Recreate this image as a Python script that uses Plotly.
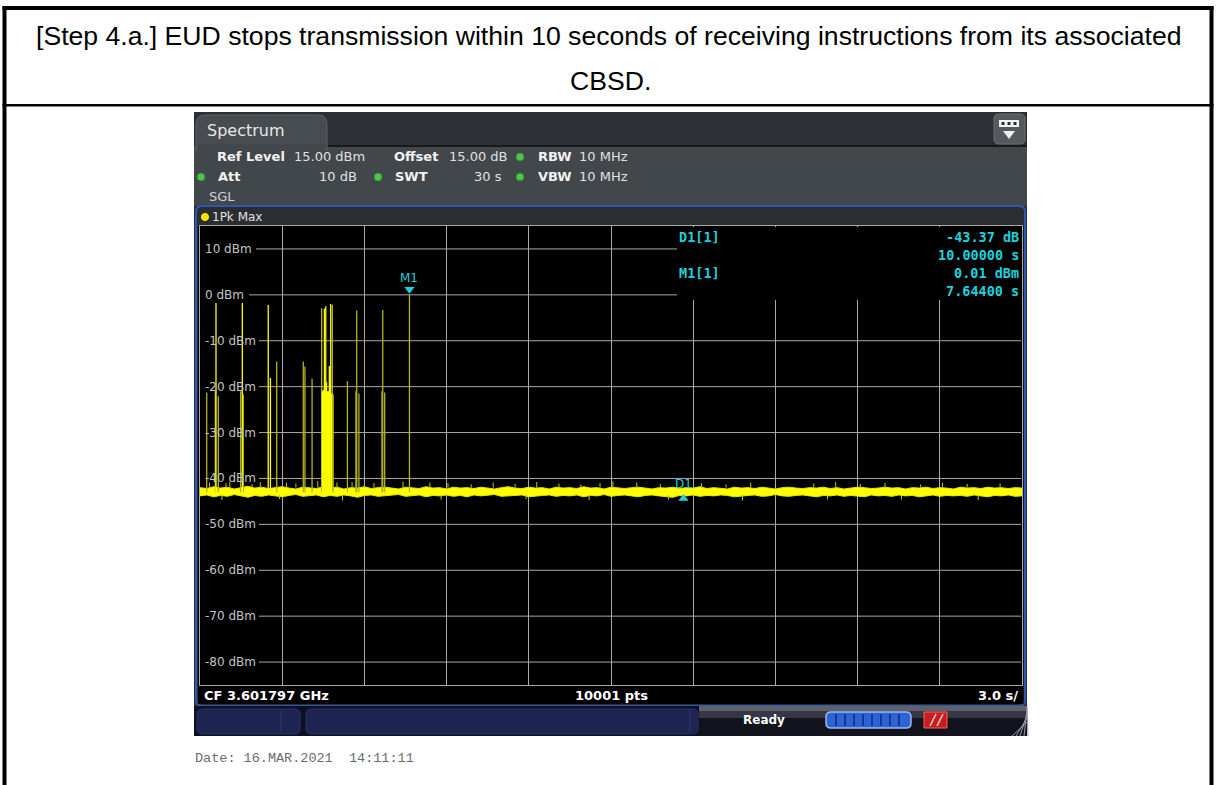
import plotly.graph_objects as go

W, H = 1216, 785

# ---------------- data ----------------
sweep_s = 30.0
ref_top, ref_bottom = 15, -85
y_ticks = [10, 0, -10, -20, -30, -40, -50, -60, -70, -80]
y_tick_labels = ["10 dBm", "0 dBm", "-10 dBm", "-20 dBm", "-30 dBm",
                 "-40 dBm", "-50 dBm", "-60 dBm", "-70 dBm", "-80 dBm"]

noise_t = [i * 0.25 for i in range(121)]
noise_upper = [
    -42.0, -42.2, -41.8, -42.1, -41.9, -42.3, -42.0, -41.7, -42.1, -41.9,
    -42.2, -42.0, -41.8, -42.1, -42.3, -41.9, -42.0, -42.2, -41.8, -42.1,
    -41.9, -42.3, -42.0, -42.1, -41.8, -42.2, -42.0, -41.9, -42.1, -42.3,
    -41.9, -42.0, -42.2, -41.8, -42.1, -42.0, -42.3, -41.9, -42.1, -42.0,
    -42.2, -41.9, -42.1, -42.3, -42.0, -41.8, -42.1, -42.2, -41.9, -42.1,
    -42.0, -42.3, -41.9, -42.1, -42.0, -42.2, -41.8, -42.1, -42.0, -42.3,
    -41.9, -42.1, -42.2, -42.0, -41.9, -42.1, -42.3, -42.0, -42.1, -41.9,
    -42.2, -42.0, -42.1, -41.8, -42.2, -42.0, -42.1, -42.3, -41.9, -42.1,
    -42.0, -42.2, -41.9, -42.1, -42.3, -42.0, -41.9, -42.1, -42.2, -42.0,
    -42.1, -41.9, -42.2, -42.0, -42.3, -42.1, -41.9, -42.0, -42.2, -42.1,
    -41.9, -42.1, -42.0, -42.3, -42.0, -42.1, -41.9, -42.2, -42.0, -42.1,
    -42.3, -41.9, -42.1, -42.0, -42.2, -41.9, -42.1, -42.0, -42.2, -42.0,
    -42.1]
noise_lower = [
    -43.8, -43.6, -44.0, -43.7, -43.9, -43.5, -43.8, -44.1, -43.7, -43.9,
    -43.6, -43.8, -44.0, -43.7, -43.5, -43.9, -43.8, -43.6, -44.0, -43.7,
    -43.9, -43.6, -43.8, -44.1, -43.7, -43.6, -43.9, -43.8, -43.7, -43.5,
    -43.9, -43.8, -43.6, -44.0, -43.7, -43.8, -43.6, -43.9, -43.7, -44.0,
    -43.6, -43.8, -43.7, -43.5, -43.9, -43.8, -43.7, -43.6, -44.0, -43.8,
    -43.7, -43.6, -43.9, -43.7, -43.8, -43.6, -44.0, -43.7, -43.8, -43.5,
    -43.9, -43.7, -43.6, -43.8, -44.0, -43.7, -43.6, -43.8, -43.9, -44.1,
    -43.7, -43.8, -43.6, -43.9, -43.7, -43.8, -43.6, -43.7, -44.0, -43.8,
    -43.7, -43.6, -43.9, -43.8, -43.5, -43.8, -43.9, -43.7, -43.6, -43.8,
    -44.0, -43.7, -43.8, -43.6, -43.9, -43.7, -43.8, -44.0, -43.6, -43.8,
    -43.7, -43.9, -43.6, -43.8, -43.7, -44.0, -43.8, -43.6, -43.9, -43.7,
    -43.8, -43.7, -43.9, -43.6, -43.8, -44.0, -43.7, -43.8, -43.6, -43.9,
    -43.8]

floor_peak_t = [0.35, 0.95, 1.09, 1.9, 2.2, 3.16, 3.5, 4.3, 5.0, 5.55, 6.0, 6.35,
                7.41, 8.39, 9.05, 9.9, 10.7, 11.5, 12.29, 13.1, 13.9, 14.6, 15.07,
                15.94, 16.8, 18.3, 19.2, 20.1, 21.0, 22.4, 23.2, 24.1, 25.0, 26.3,
                27.1, 28.0, 29.2]
floor_peak_dbm = [-40.9, -41.0, -40.7, -41.2, -40.8, -40.9, -41.1, -40.6, -40.9, -40.8,
                  -41.2, -41.0, -40.7, -40.9, -41.0, -41.3, -40.9, -41.2, -40.8, -41.1,
                  -41.3, -41.0, -40.6, -40.9, -41.2, -41.0, -41.3, -40.9, -41.2, -41.1,
                  -40.8, -41.2, -41.0, -41.3, -40.9, -41.2, -41.1]
floor_dip_t = [0.8, 2.9, 5.2, 8.8, 11.9, 14.2, 17.1, 19.8, 22.9, 25.6, 28.4]
floor_dip_dbm = [-44.7, -44.5, -44.8, -44.6, -44.5, -44.7, -44.6, -44.8, -44.5, -44.6, -44.7]

burst_t = [0.245, 0.560, 0.584, 0.668, 1.485, 1.545, 1.58, 2.49, 2.57, 2.80,
           3.77, 3.83, 4.09, 4.44, 4.47, 4.50, 4.54, 4.56, 4.59, 4.62, 4.66,
           4.69, 4.72, 4.77, 4.80, 4.83, 4.86, 5.38, 5.69, 5.72, 5.80, 6.64,
           6.67, 6.74, 7.644]
burst_dbm = [-21.3, -21.0, -1.8, -22.1, -21.0, -1.8, -21.7, -2.2, -18.1, -14.5,
             -14.5, -15.6, -18.3, -2.9, -21.0, -20.7, -3.0, -21.0, -2.5, -19.0, -21.0,
             -21.0, -15.5, -2.0, -21.5, -2.2, -21.7, -18.8, -21.0, -3.4, -21.5, -21.0,
             -3.3, -21.3, 0.01]
burst_bright = [False, False, True, False, False, True, False, True, True, False,
                False, False, False, False, True, True, True, True, True, True, True,
                True, True, True, True, False, False, False, False, False, False, False,
                False, False, False]
floor_level = -43.0

m1_t, m1_dbm = 7.644, 0.01
d1_dt, d1_db = 10.0, -43.37

# ---------------- helpers (layout only) ----------------
shapes, annos = [], []
X = lambda x: x / W
Y = lambda y: 1 - y / H


def rect(x0, y0, x1, y1, fill, lc=None, lw=0, layer="below"):
    shapes.append(dict(type="rect", xref="paper", yref="paper", x0=X(x0), x1=X(x1),
                       y0=Y(y1), y1=Y(y0), fillcolor=fill,
                       line=dict(color=lc or fill, width=lw), layer=layer))


def rrect(x0, y0, x1, y1, r, fill, lc=None, lw=0, bottom_round=True, layer="below"):
    rb = r if bottom_round else 0
    p = (f"M {X(x0 + r)},{Y(y0)} L {X(x1 - r)},{Y(y0)} Q {X(x1)},{Y(y0)} {X(x1)},{Y(y0 + r)} "
         f"L {X(x1)},{Y(y1 - rb)} Q {X(x1)},{Y(y1)} {X(x1 - rb)},{Y(y1)} "
         f"L {X(x0 + rb)},{Y(y1)} Q {X(x0)},{Y(y1)} {X(x0)},{Y(y1 - rb)} "
         f"L {X(x0)},{Y(y0 + r)} Q {X(x0)},{Y(y0)} {X(x0 + r)},{Y(y0)} Z")
    shapes.append(dict(type="path", xref="paper", yref="paper", path=p,
                       fillcolor=fill, line=dict(color=lc or fill, width=lw), layer=layer))


def line(x0, y0, x1, y1, color, w=1, layer="below"):
    shapes.append(dict(type="line", xref="paper", yref="paper", x0=X(x0), x1=X(x1),
                       y0=Y(y0), y1=Y(y1), line=dict(color=color, width=w), layer=layer))


def dot(cx, cy, r, fill, lc=None):
    shapes.append(dict(type="circle", xref="paper", yref="paper", x0=X(cx - r), x1=X(cx + r),
                       y0=Y(cy + r), y1=Y(cy - r), fillcolor=fill,
                       line=dict(color=lc or fill, width=1), layer="below"))


def text(x, y, s, size=13, color="#e0e0e0", family="DejaVu Sans", anchor="left", bold=False):
    annos.append(dict(xref="paper", yref="paper", x=X(x), y=Y(y),
                      text=f"<b>{s}</b>" if bold else s, showarrow=False,
                      xanchor=anchor, yanchor="middle", borderpad=0,
                      font=dict(size=size, color=color, family=family)))


# ---------------- outer table ----------------
rect(2.5, 6, 1213.5, 10, "black")
rect(2.5, 6, 6.5, 785, "black")
rect(1209.5, 6, 1213.5, 785, "black")
rect(2.5, 104, 1213.5, 106.5, "black")
hdr_font = "Liberation Sans, Arial"
text(609, 36, "[Step 4.a.] EUD stops transmission within 10 seconds of receiving instructions from its associated",
     size=26.6, color="black", family=hdr_font, anchor="center")
text(610, 81, "CBSD.", size=26.6, color="black", family=hdr_font, anchor="center")

# ---------------- instrument screenshot chrome ----------------
rect(194, 112, 1027, 736, "#2c3034")            # whole screenshot
rect(194, 146, 1027, 206, "#42474b")            # info area
line(327, 146, 1027, 146, "#17191b", 2)
rrect(196, 115, 327, 150, 9, "#474c50", "#5c6165", 1, bottom_round=False)
rect(197, 144, 326, 152, "#42474b")
text(206, 131, "Spectrum", size=16, color="#e8e8e8")
# top right button
rrect(994, 114, 1025, 144, 5, "#55595d", "#6c7074", 1)
rect(999, 120, 1019, 127, "#f0f0f0")
for bx in (1003, 1009, 1015):
    rect(bx - 1.5, 122, bx + 1.5, 125, "#2a2d30")
shapes.append(dict(type="path", xref="paper", yref="paper",
                   path=f"M {X(1003)},{Y(131)} L {X(1015)},{Y(131)} L {X(1009)},{Y(139)} Z",
                   fillcolor="#f0f0f0", line=dict(width=0), layer="below"))

# info rows
text(216, 157, "Ref Level", bold=True, color="#f2f2f2")
text(293, 157, "15.00 dBm")
text(393, 157, "Offset", bold=True, color="#f2f2f2")
text(448, 157, "15.00 dB")
dot(520, 157, 4, "#4ec44e", "#2f8a2f")
text(537, 157, "RBW", bold=True, color="#f2f2f2")
text(578, 157, "10 MHz")
dot(201, 177, 4, "#4ec44e", "#2f8a2f")
text(217, 177, "Att", bold=True, color="#f2f2f2")
text(358, 177, "10 dB", anchor="right")
dot(378, 177, 4, "#4ec44e", "#2f8a2f")
text(394, 177, "SWT", bold=True, color="#f2f2f2")
text(503, 177, "30 s", anchor="right")
dot(520, 177, 4, "#4ec44e", "#2f8a2f")
text(537, 177, "VBW", bold=True, color="#f2f2f2")
text(578, 177, "10 MHz")
text(208, 197, "SGL", color="#cfcfcf")

# window
rrect(196, 206, 1025, 706, 6, "#2b2e31", "#2f56b4", 2)
rect(198, 226, 1023.5, 704, "black")            # plot + bottom bar area
dot(205, 217, 3.6, "#ffe400")
text(211, 217, "1Pk Max", size=12, color="#e0e0e0")
text(203, 695, "CF 3.601797 GHz", size=13, color="white", bold=True)
text(611, 695, "10001 pts", size=13, color="white", bold=True, anchor="center")
text(1019, 695, "3.0 s/", size=13, color="white", bold=True, anchor="right")

# status bar
rect(194, 706, 1027, 736, "#0d0f22")
rect(699, 706, 1027, 711, "#5d616b")
rect(699, 711, 1027, 718, "#353844")
rect(699, 718, 1027, 736, "#12131c")
rrect(197, 709, 300, 734, 5, "#1d2452", "#2a3266", 1)
rrect(306, 709, 698, 734, 5, "#1d2452", "#2a3266", 1)
line(281, 711, 281, 732, "#2e3670", 1)
line(690, 711, 690, 732, "#2e3670", 1)
text(764, 720, "Ready", size=12, color="white", bold=True, anchor="center")
rrect(826, 712, 911, 728, 5, "#2d63d2", "#9bb8ff", 1.5)
for sx in range(836, 906, 9):
    line(sx, 714, sx, 726, "#0f2a78", 1.5)
rect(924, 712, 947, 728, "#c81e1e", "#ff6060", 1)
line(930, 726, 936, 714, "#ffd0d0", 1.5)
line(937, 726, 943, 714, "#ffd0d0", 1.5)
for k in range(5):
    line(1012 + 4 * k, 736, 1027, 722 - 4 * k + 0, "#9a9aa8", 1)

# date stamp
text(194, 758, "Date: 16.MAR.2021\u00a0\u00a014:11:11", size=13.5, color="#6c6c6c",
     family="Liberation Mono, Courier New")

# ---------------- y grid lines / labels inside plot ----------------
label_end_px = {"10 dBm": 256, "0 dBm": 249}
for v, lab in zip(y_ticks, y_tick_labels):
    x0 = label_end_px.get(lab, 259)
    shapes.append(dict(type="line", xref="paper", yref="y", x0=X(x0), x1=X(1021),
                       y0=v, y1=v, line=dict(color="#a9a9a9", width=1), layer="below"))
    annos.append(dict(xref="paper", yref="y", x=X(204), y=v, text=lab, showarrow=False,
                      xanchor="left", yanchor="middle", borderpad=0,
                      font=dict(size=12, color="#c4c4c4", family="DejaVu Sans")))

# black marker-info area top right
rect(677, 227, 1021, 300, "black", layer="above")
mk = "#1fd0da"
mono = "DejaVu Sans Mono"
text(678, 237, "D1[1]", size=13.5, color=mk, family=mono, bold=True)
text(1020, 237, f"{d1_db:.2f} dB", size=13.5, color=mk, family=mono, bold=True, anchor="right")
text(1020, 255, f"{d1_dt:.5f} s", size=13.5, color=mk, family=mono, bold=True, anchor="right")
text(678, 273, "M1[1]", size=13.5, color=mk, family=mono, bold=True)
text(1020, 273, f"{m1_dbm:.2f} dBm", size=13.5, color=mk, family=mono, bold=True, anchor="right")
text(1020, 291, f"{m1_t:.5f} s", size=13.5, color=mk, family=mono, bold=True, anchor="right")

# ---------------- traces ----------------
fig = go.Figure()
fig.add_trace(go.Scatter(x=noise_t, y=noise_lower, mode="lines",
                         line=dict(color="#e6e600", width=1), hoverinfo="skip"))
fig.add_trace(go.Scatter(x=noise_t, y=noise_upper, mode="lines", fill="tonexty",
                         fillcolor="#ffff00", line=dict(color="#e6e600", width=1), hoverinfo="skip"))

fx, fy = [], []
for t, v in zip(floor_peak_t, floor_peak_dbm):
    fx += [t, t, None]
    fy += [-42.0, v, None]
for t, v in zip(floor_dip_t, floor_dip_dbm):
    fx += [t, t, None]
    fy += [-43.6, v, None]
fig.add_trace(go.Scatter(x=fx, y=fy, mode="lines", line=dict(color="#c8c800", width=1),
                         hoverinfo="skip"))

for want_bright, col in ((False, "#b4b41a"), (True, "#ffff00")):
    bx, by = [], []
    for t, v, b in zip(burst_t, burst_dbm, burst_bright):
        if b == want_bright:
            bx += [t, t, None]
            by += [floor_level, v, None]
    fig.add_trace(go.Scatter(x=bx, y=by, mode="lines", line=dict(color=col, width=1.3),
                             hoverinfo="skip"))

# markers
fig.add_trace(go.Scatter(x=[m1_t], y=[m1_dbm + 1.2], mode="markers",
                         marker=dict(symbol="triangle-down", size=9, color=mk)))
fig.add_trace(go.Scatter(x=[m1_t + d1_dt], y=[m1_dbm + d1_db - 1.0], mode="markers",
                         marker=dict(symbol="triangle-up", size=9, color=mk)))
annos.append(dict(xref="x", yref="y", x=m1_t, y=m1_dbm + 3.6, text="M1", showarrow=False,
                  font=dict(size=12, color=mk, family="DejaVu Sans"), borderpad=0))
annos.append(dict(xref="x", yref="y", x=m1_t + d1_dt, y=m1_dbm + d1_db + 2.1, text="D1",
                  showarrow=False, font=dict(size=12, color=mk, family="DejaVu Sans"),
                  borderpad=0))

fig.update_layout(
    width=W, height=H, margin=dict(l=0, r=0, t=0, b=0),
    paper_bgcolor="white", plot_bgcolor="black", showlegend=False,
    shapes=shapes, annotations=annos,
    xaxis=dict(domain=[X(200), X(1022)], range=[0, sweep_s], dtick=3, tick0=0,
               showgrid=True, gridcolor="#a9a9a9", gridwidth=1, zeroline=False,
               showticklabels=False, ticks="", showline=True, linecolor="#a9a9a9",
               linewidth=1, mirror=True, fixedrange=True),
    yaxis=dict(domain=[Y(685), Y(226)], range=[ref_bottom, ref_top], showgrid=False,
               zeroline=False, showticklabels=False, ticks="", showline=True,
               linecolor="#a9a9a9", linewidth=1, mirror=True, fixedrange=True),
)

fig.write_html("out.html", config={"displayModeBar": False},
               post_script="document.body.style.margin='0';document.body.style.overflow='hidden';")
